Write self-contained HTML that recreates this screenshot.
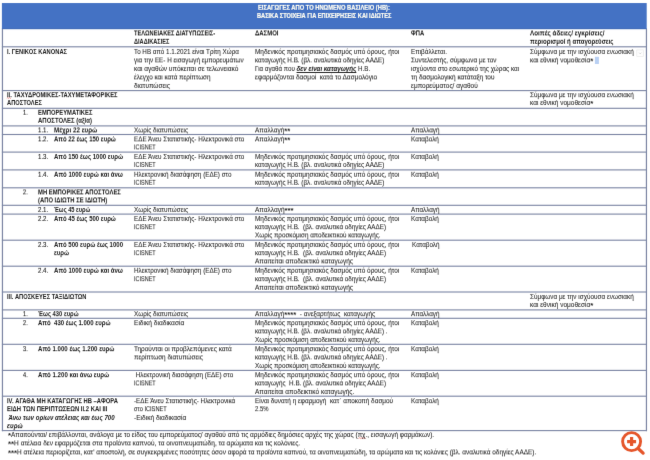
<!DOCTYPE html>
<html lang="el">
<head>
<meta charset="utf-8">
<title>ΕΙΣΑΓΩΓΕΣ ΑΠΟ ΤΟ ΗΝΩΜΕΝΟ ΒΑΣΙΛΕΙΟ (ΗΒ)</title>
<style>
html,body{margin:0;padding:0;background:#fff}
body{width:650px;height:460px;position:relative;overflow:hidden;font-family:"Liberation Sans",sans-serif;font-size:6.3px;line-height:8px;color:#262626;-webkit-text-stroke:0.06px #262626}
.pg{position:absolute;left:0;top:0;width:650px;height:460px;overflow:hidden}
.t{position:absolute;white-space:pre;margin:0;transform-origin:0 0}
.b{font-weight:bold;color:#202020;-webkit-text-stroke:0}
.w{font-weight:bold;color:#fffdf2;-webkit-text-stroke:0.2px #fffdf2}
.f{font-size:1.05em}
.a{font-weight:bold;font-size:1.2em;line-height:0;vertical-align:-0.1em;-webkit-text-stroke:0}
.n{color:#222;-webkit-text-stroke:0.1px #222}
.grid{position:absolute;left:0;top:0}
</style>
</head>
<body>
<svg width="0" height="0" style="position:absolute"><filter id="f0" x="0" y="0" width="100%" height="100%" color-interpolation-filters="sRGB"><feConvolveMatrix order="3" kernelMatrix="0.0158 0.1946 0.0158 0.0558 0.6858 0.0558 -0.0017 -0.0204 -0.0017" divisor="1" edgeMode="duplicate" preserveAlpha="false"/></filter><filter id="f1" x="0" y="0" width="100%" height="100%" color-interpolation-filters="sRGB"><feConvolveMatrix order="3" kernelMatrix="0.0049 0.0602 0.0049 0.0602 0.7396 0.0602 0.0049 0.0602 0.0049" divisor="1" edgeMode="duplicate" preserveAlpha="false"/></filter><filter id="f2" x="0" y="0" width="100%" height="100%" color-interpolation-filters="sRGB"><feConvolveMatrix order="3" kernelMatrix="-0.0017 -0.0204 -0.0017 0.0558 0.6858 0.0558 0.0158 0.1946 0.0158" divisor="1" edgeMode="duplicate" preserveAlpha="false"/></filter><filter id="f3" x="0" y="0" width="100%" height="100%" color-interpolation-filters="sRGB"><feConvolveMatrix order="3" kernelMatrix="-0.0038 -0.0473 -0.0038 0.0427 0.5246 0.0427 0.0312 0.3827 0.0312" divisor="1" edgeMode="duplicate" preserveAlpha="false"/></filter></svg>
<div class="pg" style="filter:url(#f1)">
<svg class="grid" width="650" height="460" viewBox="0 0 650 460"><rect x="1.90" y="3.05" width="644.80" height="25.95" fill="#4472c4"/><rect x="1.90" y="28.3" width="644.80" height="0.9" fill="#3e68b6"/><rect x="1.85" y="29" width="1.2" height="402.2" fill="#7a84a3"/><rect x="645.85" y="29" width="1.2" height="402.2" fill="#7a84a3"/><rect x="1.90" y="46.25" width="644.80" height="1.1" fill="#7a84a3"/><rect x="1.90" y="90.05" width="644.80" height="1.1" fill="#7a84a3"/><rect x="1.90" y="107.75" width="644.80" height="1.1" fill="#7a84a3"/><rect x="1.90" y="125.35" width="644.80" height="1.1" fill="#7a84a3"/><rect x="1.90" y="133.95" width="644.80" height="1.1" fill="#7a84a3"/><rect x="1.90" y="151.55" width="644.80" height="1.1" fill="#7a84a3"/><rect x="1.90" y="169.35" width="644.80" height="1.1" fill="#7a84a3"/><rect x="1.90" y="187.25" width="644.80" height="1.1" fill="#7a84a3"/><rect x="1.90" y="204.75" width="644.80" height="1.1" fill="#7a84a3"/><rect x="1.90" y="213.55" width="644.80" height="1.1" fill="#7a84a3"/><rect x="1.90" y="239.65" width="644.80" height="1.1" fill="#7a84a3"/><rect x="1.90" y="265.65" width="644.80" height="1.1" fill="#7a84a3"/><rect x="1.90" y="291.45" width="644.80" height="1.1" fill="#7a84a3"/><rect x="1.90" y="309.35" width="644.80" height="1.1" fill="#7a84a3"/><rect x="1.90" y="317.75" width="644.80" height="1.1" fill="#7a84a3"/><rect x="1.90" y="343.75" width="644.80" height="1.1" fill="#7a84a3"/><rect x="1.90" y="369.85" width="644.80" height="1.1" fill="#7a84a3"/><rect x="1.90" y="395.65" width="644.80" height="1.1" fill="#7a84a3"/><rect x="1.90" y="430.05" width="644.80" height="1.1" fill="#7a84a3"/><rect x="594.9" y="56.8" width="4" height="7.2" fill="#b9d0f3"/><rect x="636.8" y="49.9" width="6.6" height="6.6" fill="#fdfdfd" stroke="#e6e6e6" stroke-width="0.6"/><path d="M639.1 52.7 L640.2 53.8 L641.3 52.7" fill="none" stroke="#c4c4c4" stroke-width="0.7"/><path d="M6.8 98.4 l0.9 -0.8 l0.9 0.8 l0.9 -0.8 l0.9 0.8 l0.6 -0.6" fill="none" stroke="#e0403a" stroke-width="0.55"/><path d="M358.4 438.5 l0.9 -0.8 l0.9 0.8 l0.9 -0.8 l0.9 0.8 l0.9 -0.8 l0.9 0.8 l0.9 -0.8 l0.9 0.8" fill="none" stroke="#e0403a" stroke-width="0.55"/><path d="M638.4 448.7 L643.1 453.1" stroke="#e5552a" stroke-width="3.3" stroke-linecap="round" fill="none"/><circle cx="631.6" cy="441.6" r="9" fill="#fff" stroke="#e5552a" stroke-width="2.9"/><path d="M631.6 437.1 V446.1 M627.1 441.6 H636.1" stroke="#e5552a" stroke-width="3.2" fill="none"/></svg>
<p class="t w" style="left:256.80px;top:12px;transform:scaleX(0.8957)">ΒΑΣΙΚΑ ΣΤΟΙΧΕΙΑ ΓΙΑ ΕΠΙΧΕΙΡΗΣΕΙΣ ΚΑΙ ΙΔΙΩΤΕΣ</p>
<p class="t b" style="left:7.00px;top:48px;transform:scaleX(0.9141)">I. ΓΕΝΙΚΟΣ ΚΑΝΟΝΑΣ</p>
<p class="t" style="left:134.25px;top:48px;transform:scaleX(0.9953)">Το ΗΒ από 1.1.2021 είναι Τρίτη Χώρα</p>
<p class="t" style="left:134.25px;top:65px;transform:scaleX(1.0361)">και αγαθών υπόκειται σε τελωνειακό</p>
<p class="t" style="left:134.25px;top:82px;transform:scaleX(1.0336)">διατυπώσεις</p>
<p class="t" style="left:255.30px;top:48px;transform:scaleX(1.0229)">Μηδενικός προτιμησιακός δασμός υπό όρους, ήτοι</p>
<p class="t" style="left:255.30px;top:65px;transform:scaleX(0.9830)">Για αγαθά που <b><i><u>δεν είναι καταγωγής</u></i></b> Η.Β.</p>
<p class="t" style="left:410.50px;top:48px;transform:scaleX(1.0113)">Επιβάλλεται.</p>
<p class="t" style="left:410.50px;top:65px;transform:scaleX(1.0095)">ισχύοντα στο εσωτερικό της χώρας και</p>
<p class="t" style="left:410.50px;top:82px;transform:scaleX(1.0324)">εμπορεύματος/ αγαθού</p>
<p class="t" style="left:530.40px;top:48px;transform:scaleX(1.0148)">Σύμφωνα με την ισχύουσα ενωσιακή</p>
<p class="t b" style="left:7.00px;top:99px;transform:scaleX(0.9083)">ΑΠΟΣΤΟΛΕΣ</p>
<p class="t" style="left:530.40px;top:99px;transform:scaleX(1.0347)">και εθνική νομοθεσία<span class="a">*</span></p>
<p class="t n" style="left:38.30px;top:153px;transform:scaleX(0.9700)">1.3.</p>
<p class="t b" style="left:53.90px;top:153px;transform:scaleX(0.9579)">Από 150 έως 1000 ευρώ</p>
<p class="t" style="left:134.25px;top:153px;transform:scaleX(1.0023)">ΕΔΕ Άνευ Στατιστικής- Ηλεκτρονικά στο</p>
<p class="t" style="left:134.25px;top:161px;transform:scaleX(0.8714)">ICISNET</p>
<p class="t" style="left:255.30px;top:153px;transform:scaleX(1.0229)">Μηδενικός προτιμησιακός δασμός υπό όρους, ήτοι</p>
<p class="t" style="left:255.30px;top:161px;transform:scaleX(1.0027)">καταγωγής Η.Β. (βλ. αναλυτικά οδηγίες ΑΑΔΕ)</p>
<p class="t" style="left:410.50px;top:153px;transform:scaleX(1.0157)">Καταβολή</p>
<p class="t n" style="left:38.30px;top:206px;transform:scaleX(0.9700)">2.1.</p>
<p class="t b" style="left:53.90px;top:206px;transform:scaleX(0.9022)">Έως 45 ευρώ</p>
<p class="t" style="left:134.25px;top:206px;transform:scaleX(1.0055)">Χωρίς διατυπώσεις</p>
<p class="t" style="left:255.30px;top:206px;transform:scaleX(1.0319)">Απαλλαγή<span class="a">***</span></p>
<p class="t" style="left:410.50px;top:206px;transform:scaleX(0.9967)">Απαλλαγή</p>
<p class="t n" style="left:38.30px;top:215px;transform:scaleX(0.9700)">2.2.</p>
<p class="t b" style="left:53.90px;top:215px;transform:scaleX(0.9519)">Από 45 έως 500 ευρώ</p>
<p class="t" style="left:134.25px;top:215px;transform:scaleX(1.0023)">ΕΔΕ Άνευ Στατιστικής- Ηλεκτρονικά στο</p>
<p class="t" style="left:255.30px;top:215px;transform:scaleX(1.0229)">Μηδενικός προτιμησιακός δασμός υπό όρους, ήτοι</p>
<p class="t" style="left:410.50px;top:215px;transform:scaleX(1.0157)">Καταβολή</p>
<p class="t n" style="left:38.30px;top:241px;transform:scaleX(0.9700)">2.3.</p>
<p class="t b" style="left:53.90px;top:241px;transform:scaleX(0.9579)">Από 500 ευρώ έως 1000</p>
<p class="t" style="left:134.25px;top:241px;transform:scaleX(1.0023)">ΕΔΕ Άνευ Στατιστικής- Ηλεκτρονικά στο</p>
<p class="t" style="left:255.30px;top:241px;transform:scaleX(1.0229)">Μηδενικός προτιμησιακός δασμός υπό όρους, ήτοι</p>
<p class="t" style="left:412.20px;top:241px;transform:scaleX(1.0011)">Καταβολή</p>
<p class="t b" style="left:7.00px;top:293px;transform:scaleX(0.9078)">III. ΑΠΟΣΚΕΥΕΣ ΤΑΞΙΔΙΩΤΩΝ</p>
<p class="t" style="left:530.40px;top:293px;transform:scaleX(1.0148)">Σύμφωνα με την ισχύουσα ενωσιακή</p>
<p class="t" style="left:530.40px;top:301px;transform:scaleX(1.0347)">και εθνική νομοθεσία<span class="a">*</span></p>
<p class="t" style="left:255.30px;top:336px;transform:scaleX(1.0039)">Χωρίς προσκόμιση αποδεικτικού καταγωγής.</p>
<p class="t" style="left:255.30px;top:362px;transform:scaleX(1.0039)">Χωρίς προσκόμιση αποδεικτικού καταγωγής.</p>
<p class="t" style="left:255.30px;top:388px;transform:scaleX(1.0334)">Απαιτείται αποδεικτικό καταγωγής.</p>
<p class="t b" style="left:7.00px;top:414px;transform:scaleX(0.9707)"><i> Άνω των ορίων ατέλειας και έως 700</i></p>
<p class="t" style="left:134.25px;top:414px;transform:scaleX(1.0430)">-Ειδική διαδικασία</p>
<p class="t" style="left:7.50px;top:431px;transform:scaleX(0.9766)"><span class="f"><span class="a">*</span>Απαιτούνται/ επιβάλλονται, ανάλογα με το είδος του εμπορεύματος/ αγαθού από τις αρμόδιες δημόσιες αρχές της χώρας (πχ., εισαγωγή φαρμάκων).</span></p>
</div>
<div class="pg" style="filter:url(#f0)">
<p class="t w" style="left:258.00px;top:4px;transform:scaleX(0.9153)">ΕΙΣΑΓΩΓΕΣ ΑΠΟ ΤΟ ΗΝΩΜΕΝΟ ΒΑΣΙΛΕΙΟ (ΗΒ):</p>
<p class="t b" style="left:134.25px;top:38px;transform:scaleX(0.8904)">ΔΙΑΔΙΚΑΣΙΕΣ</p>
<p class="t b" style="left:530.40px;top:38px;transform:scaleX(0.9636)">περιορισμοί ή απαγορεύσεις</p>
<p class="t n" style="left:22.80px;top:109px;transform:scaleX(0.8926)">1.</p>
<p class="t b" style="left:38.10px;top:109px;transform:scaleX(0.9237)">ΕΜΠΟΡΕΥΜΑΤΙΚΕΣ</p>
<p class="t b" style="left:38.10px;top:117px;transform:scaleX(0.9514)">ΑΠΟΣΤΟΛΕΣ (αξία)</p>
<p class="t n" style="left:38.30px;top:171px;transform:scaleX(0.9700)">1.4.</p>
<p class="t b" style="left:53.90px;top:171px;transform:scaleX(0.9621)">Από 1000 ευρώ και άνω</p>
<p class="t" style="left:134.25px;top:171px;transform:scaleX(1.0024)">Ηλεκτρονική διασάφηση (ΕΔΕ) στο</p>
<p class="t" style="left:134.25px;top:179px;transform:scaleX(0.8714)">ICISNET</p>
<p class="t" style="left:255.30px;top:171px;transform:scaleX(1.0229)">Μηδενικός προτιμησιακός δασμός υπό όρους, ήτοι</p>
<p class="t" style="left:255.30px;top:179px;transform:scaleX(1.0027)">καταγωγής Η.Β. (βλ. αναλυτικά οδηγίες ΑΑΔΕ)</p>
<p class="t" style="left:410.50px;top:171px;transform:scaleX(1.0157)">Καταβολή</p>
<p class="t n" style="left:38.30px;top:267px;transform:scaleX(0.9700)">2.4.</p>
<p class="t b" style="left:53.90px;top:267px;transform:scaleX(0.9621)">Από 1000 ευρώ και άνω</p>
<p class="t" style="left:134.25px;top:267px;transform:scaleX(1.0024)">Ηλεκτρονική διασάφηση (ΕΔΕ) στο</p>
<p class="t" style="left:255.30px;top:267px;transform:scaleX(1.0229)">Μηδενικός προτιμησιακός δασμός υπό όρους, ήτοι</p>
<p class="t" style="left:255.30px;top:284px;transform:scaleX(1.0388)">Απαιτείται αποδεικτικό καταγωγής</p>
<p class="t" style="left:410.50px;top:267px;transform:scaleX(1.0157)">Καταβολή</p>
</div>
<div class="pg" style="filter:url(#f2)">
<p class="t b" style="left:7.00px;top:91px;transform:scaleX(0.9211)">II. ΤΑΧΥΔΡΟΜΙΚΕΣ-ΤΑΧΥΜΕΤΑΦΟΡΙΚΕΣ</p>
<p class="t" style="left:530.40px;top:91px;transform:scaleX(1.0148)">Σύμφωνα με την ισχύουσα ενωσιακή</p>
<p class="t" style="left:134.25px;top:223px;transform:scaleX(0.8714)">ICISNET</p>
<p class="t" style="left:255.30px;top:223px;transform:scaleX(1.0023)">καταγωγής Η.Β.  (βλ. αναλυτικά οδηγίες ΑΑΔΕ)</p>
<p class="t b" style="left:53.90px;top:249px;transform:scaleX(0.9512)">ευρώ</p>
<p class="t" style="left:134.25px;top:249px;transform:scaleX(0.8714)">ICISNET</p>
<p class="t" style="left:255.30px;top:249px;transform:scaleX(1.0023)">καταγωγής Η.Β.  (βλ. αναλυτικά οδηγίες ΑΑΔΕ)</p>
<p class="t" style="left:134.25px;top:275px;transform:scaleX(0.8714)">ICISNET</p>
<p class="t" style="left:255.30px;top:275px;transform:scaleX(1.0023)">καταγωγής Η.Β.  (βλ. αναλυτικά οδηγίες ΑΑΔΕ)</p>
<p class="t n" style="left:22.80px;top:310px;transform:scaleX(0.8926)">1.</p>
<p class="t b" style="left:38.10px;top:310px;transform:scaleX(0.9260)">Έως 430 ευρώ</p>
<p class="t" style="left:134.25px;top:310px;transform:scaleX(1.0055)">Χωρίς διατυπώσεις</p>
<p class="t" style="left:255.30px;top:310px;transform:scaleX(1.0228)">Απαλλαγή<span class="a">****</span>  - ανεξαρτήτως  καταγωγής</p>
<p class="t" style="left:410.50px;top:310px;transform:scaleX(0.9967)">Απαλλαγή</p>
<p class="t n" style="left:22.80px;top:319px;transform:scaleX(0.8926)">2.</p>
<p class="t b" style="left:38.10px;top:319px;transform:scaleX(0.9599)">Από  430 έως 1.000 ευρώ</p>
<p class="t" style="left:134.25px;top:319px;transform:scaleX(1.0469)">Ειδική διαδικασία</p>
<p class="t" style="left:255.30px;top:319px;transform:scaleX(1.0229)">Μηδενικός προτιμησιακός δασμός υπό όρους, ήτοι</p>
<p class="t" style="left:410.50px;top:319px;transform:scaleX(1.0157)">Καταβολή</p>
<p class="t n" style="left:22.80px;top:345px;transform:scaleX(0.8926)">3.</p>
<p class="t b" style="left:38.10px;top:345px;transform:scaleX(0.9680)">Από 1.000 έως 1.200 ευρώ</p>
<p class="t" style="left:134.25px;top:345px;transform:scaleX(1.0269)">Τηρούνται οι προβλεπόμενες κατά</p>
<p class="t" style="left:255.30px;top:345px;transform:scaleX(1.0229)">Μηδενικός προτιμησιακός δασμός υπό όρους, ήτοι</p>
<p class="t" style="left:410.50px;top:345px;transform:scaleX(1.0157)">Καταβολή</p>
<p class="t n" style="left:22.80px;top:371px;transform:scaleX(0.8926)">4.</p>
<p class="t b" style="left:38.10px;top:371px;transform:scaleX(0.9691)">Από 1.200 και άνω ευρώ</p>
<p class="t" style="left:134.25px;top:371px;transform:scaleX(1.0009)"> Ηλεκτρονική διασάφηση (ΕΔΕ) στο</p>
<p class="t" style="left:255.30px;top:371px;transform:scaleX(1.0229)">Μηδενικός προτιμησιακός δασμός υπό όρους, ήτοι</p>
<p class="t" style="left:410.50px;top:371px;transform:scaleX(1.0157)">Καταβολή</p>
<p class="t b" style="left:7.00px;top:397px;transform:scaleX(0.9262)">IV. ΑΓΑΘΑ ΜΗ ΚΑΤΑΓΩΓΗΣ ΗΒ –ΑΦΟΡΑ</p>
<p class="t b" style="left:7.00px;top:405px;transform:scaleX(0.9326)">ΕΙΔΗ ΤΩΝ ΠΕΡΙΠΤΩΣΕΩΝ ΙΙ.2 ΚΑΙ ΙΙΙ</p>
<p class="t b" style="left:7.00px;top:422px;transform:scaleX(0.9866)"><i>ευρώ</i></p>
<p class="t" style="left:134.25px;top:397px;transform:scaleX(1.0059)">-ΕΔΕ Άνευ Στατιστικής- Ηλεκτρονικά</p>
<p class="t" style="left:134.25px;top:405px;transform:scaleX(0.9000)">στο ICISNET</p>
<p class="t" style="left:255.30px;top:397px;transform:scaleX(1.0170)">Είναι δυνατή η εφαρμογή  κατ΄ αποκοπή δασμού</p>
<p class="t" style="left:255.30px;top:405px;transform:scaleX(0.9402)">2.5%</p>
<p class="t" style="left:410.50px;top:397px;transform:scaleX(1.0157)">Καταβολή</p>
</div>
<div class="pg" style="filter:url(#f3)">
<p class="t b" style="left:134.25px;top:29px;transform:scaleX(0.9012)">ΤΕΛΩΝΕΙΑΚΕΣ ΔΙΑΤΥΠΩΣΕΙΣ-</p>
<p class="t b" style="left:255.30px;top:29px;transform:scaleX(0.9495)">ΔΑΣΜΟΙ</p>
<p class="t b" style="left:410.50px;top:29px;transform:scaleX(0.9183)">ΦΠΑ</p>
<p class="t b" style="left:530.40px;top:29px;transform:scaleX(1.0015)">Λοιπές άδειες/ εγκρίσεις/</p>
<p class="t" style="left:134.25px;top:56px;transform:scaleX(1.0029)">για την ΕΕ- Η εισαγωγή εμπορευμάτων</p>
<p class="t" style="left:134.25px;top:73px;transform:scaleX(1.0093)">έλεγχο και κατά περίπτωση</p>
<p class="t" style="left:255.30px;top:56px;transform:scaleX(1.0027)">καταγωγής Η.Β. (βλ. αναλυτικά οδηγίες ΑΑΔΕ)</p>
<p class="t" style="left:255.30px;top:73px;transform:scaleX(1.0378)">εφαρμόζονται δασμοί  κατά το Δασμολόγιο</p>
<p class="t" style="left:410.50px;top:56px;transform:scaleX(1.0194)">Συντελεστής, σύμφωνα με τον</p>
<p class="t" style="left:410.50px;top:73px;transform:scaleX(1.0245)">τη δασμολογική κατάταξη του</p>
<p class="t" style="left:530.40px;top:56px;transform:scaleX(1.0347)">και εθνική νομοθεσία<span class="a">*</span></p>
<p class="t n" style="left:38.30px;top:126px;transform:scaleX(0.9700)">1.1.</p>
<p class="t b" style="left:53.90px;top:126px;transform:scaleX(0.9924)">Μέχρι 22 ευρώ</p>
<p class="t" style="left:134.25px;top:126px;transform:scaleX(1.0055)">Χωρίς διατυπώσεις</p>
<p class="t" style="left:255.30px;top:126px;transform:scaleX(1.0241)">Απαλλαγή<span class="a">**</span></p>
<p class="t" style="left:410.50px;top:126px;transform:scaleX(0.9967)">Απαλλαγή</p>
<p class="t n" style="left:38.30px;top:135px;transform:scaleX(0.9700)">1.2.</p>
<p class="t b" style="left:53.90px;top:135px;transform:scaleX(0.9519)">Από 22 έως 150 ευρώ</p>
<p class="t" style="left:134.25px;top:135px;transform:scaleX(1.0023)">ΕΔΕ Άνευ Στατιστικής- Ηλεκτρονικά στο</p>
<p class="t" style="left:134.25px;top:143px;transform:scaleX(0.8714)">ICISNET</p>
<p class="t" style="left:255.30px;top:135px;transform:scaleX(1.0241)">Απαλλαγή<span class="a">**</span></p>
<p class="t" style="left:410.50px;top:135px;transform:scaleX(1.0157)">Καταβολή</p>
<p class="t n" style="left:22.80px;top:188px;transform:scaleX(0.8926)">2.</p>
<p class="t b" style="left:38.10px;top:188px;transform:scaleX(0.9331)">ΜΗ ΕΜΠΟΡΙΚΕΣ ΑΠΟΣΤΟΛΕΣ</p>
<p class="t b" style="left:38.10px;top:196px;transform:scaleX(0.9306)">(ΑΠΟ ΙΔΙΩΤΗ ΣΕ ΙΔΙΩΤΗ)</p>
<p class="t" style="left:255.30px;top:231px;transform:scaleX(1.0039)">Χωρίς προσκόμιση αποδεικτικού καταγωγής.</p>
<p class="t" style="left:255.30px;top:257px;transform:scaleX(1.0388)">Απαιτείται αποδεικτικό καταγωγής</p>
<p class="t" style="left:255.30px;top:327px;transform:scaleX(1.0004)">καταγωγής Η.Β. (βλ. αναλυτικά οδηγίες ΑΑΔΕ) .</p>
<p class="t" style="left:134.25px;top:353px;transform:scaleX(1.0152)">περίπτωση διατυπώσεις</p>
<p class="t" style="left:255.30px;top:353px;transform:scaleX(1.0004)">καταγωγής Η.Β. (βλ. αναλυτικά οδηγίες ΑΑΔΕ) .</p>
<p class="t" style="left:134.25px;top:379px;transform:scaleX(0.8714)">ICISNET</p>
<p class="t" style="left:255.30px;top:379px;transform:scaleX(1.0023)">καταγωγής  Η.Β. (βλ. αναλυτικά οδηγίες ΑΑΔΕ)</p>
<p class="t" style="left:7.50px;top:439px;transform:scaleX(0.9892)"><span class="f"><span class="a">**</span>Η ατέλεια δεν εφαρμόζεται στα προϊόντα καπνού, τα οινοπνευματώδη, τα αρώματα και τις κολόνιες.</span></p>
<p class="t" style="left:7.50px;top:448px;transform:scaleX(0.9762)"><span class="f"><span class="a">***</span>Η ατέλεια περιορίζεται, κατ' αποστολή, σε συγκεκριμένες ποσότητες όσον αφορά τα προϊόντα καπνού, τα οινοπνευματώδη, τα αρώματα και τις κολόνιες (βλ. αναλυτικά οδηγίες ΑΑΔΕ).</span></p>
</div>
</body>
</html>
